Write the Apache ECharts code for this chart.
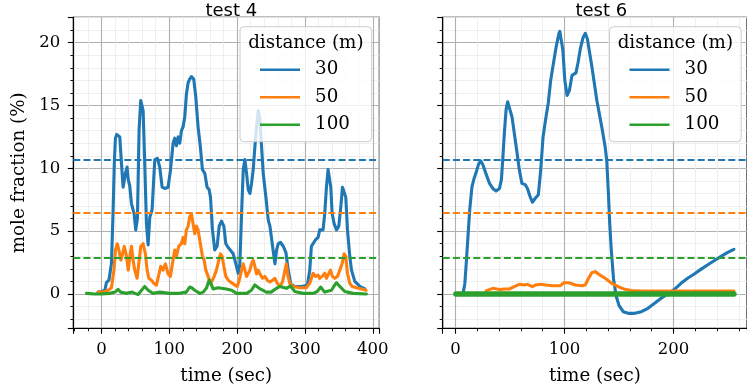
<!DOCTYPE html>
<html><head><meta charset="utf-8">
<script src="https://cdn.jsdelivr.net/npm/echarts@6/dist/echarts.min.js"></script>
<style>html,body{margin:0;padding:0;background:#fff}#c{width:747px;height:391px}</style>
</head><body><div id="c"></div>
<script>
// ---- text ----
const panelTitles = ['test 4', 'test 6'];
const legendTitle = 'distance (m)';
const distances = ['30', '50', '100'];
const xName = 'time (sec)';
const yName = 'mole fraction (%)';
// ---- reference levels (dashed) per distance ----
const thresholds = [10.72, 6.45, 2.87];

// ---- test 4 ----
const t4_30 = [-5,0,5,7.3,11,14.7,17.1,19,20.6,22.5,24.5,27,29.5,31.9,33.5,35.3,37.8,39.5,41.7,44.2,48.1,50.5,53,55.5,57.9,61.4,63.8,66.3,68.8,71.2,74.6,78.6,82.5,85.9,89.4,93.3,98.2,101.6,105.6,108,110.5,113,115.4,117.9,120.3,122.8,125.2,127.7,130,132.6,136,139,142.4,145.8,148.8,152.3,155.7,158.7,160.7,163.6,167,170.5,173.5,176.9,180.4,183.3,186.8,189.2,194.2,198.1,201.6,204,206.5,209,211.4,213.9,216.3,218.8,221.2,223.7,226.1,228.6,231,233.5,236,238.4,242.4,245.8,248.3,252.2,255.7,258.1,260.6,264,268,271.9,275,279,284.8,294.6,303.5,307,309.4,311.9,315.3,319.3,321.7,324.2,326.6,329.1,331.6,334,335.5,338,340,342.9,346.4,349.8,352.8,355.2,357.6,360.1,362.6,366,368.5,373.4,380.8,388.2];
const v4_30 = [0.15,0.2,0.3,0.9,1.1,2.4,6.5,10.5,12.4,12.7,12.6,12.5,10.4,8.5,9.0,9.6,10.1,9.1,8.6,7.2,6.4,5.1,6.0,13.1,15.4,14.6,10.4,5.6,3.9,6.1,6.7,10.7,10.8,10.1,8.5,8.4,8.5,9.8,12.0,12.4,11.8,12.5,12.0,13.0,13.3,14.1,15.9,16.8,17.1,17.3,17.1,15.7,13.3,11.7,9.9,9.6,8.5,8.3,7.7,5.1,3.5,3.8,5.4,5.8,5.4,4.0,3.7,3.6,3.2,2.4,1.65,2.4,6.4,9.9,10.7,9.6,8.3,8.0,8.8,9.9,11.7,13.3,14.6,14.0,11.7,9.6,7.7,5.9,5.4,3.8,2.4,3.5,4.0,4.1,3.8,3.3,2.0,0.8,0.6,0.6,0.7,1.9,3.8,4.0,4.3,4.5,5.1,5.0,5.1,6.4,8.5,9.9,10.0,8.5,6.4,5.6,5.1,5.4,6.95,8.5,8.6,7.7,5.1,3.0,1.9,1.0,0.6,0.4];
const t4_50 = [-5,5,10,14.7,18.4,20.6,23.3,25.7,28.7,31.2,33.6,37,39.5,42,44.2,46.6,49.1,52.5,55,58,61.4,64.8,67.3,69.8,73.7,77.1,81.1,83.5,87.4,90.8,94.3,98.2,101.6,104.6,108,110.4,113.9,117.9,120.3,122.8,125.2,127.7,130.1,132.6,135,137.5,140,142.4,144.9,146.4,148.8,151.3,153.8,157.2,160.7,163.6,166.1,169.5,173,175.4,177.9,180.4,183.3,186.8,190.2,193.2,196.6,200.1,203.1,206.5,209,211.4,213.9,216.3,218.8,221.2,223.7,226.1,228.6,231,233.5,237.4,240.8,244.3,248.3,252.2,255.7,259.1,263.1,267,270.5,272.5,275,277.5,282.4,292.2,302,307,311.9,315.3,319.3,321.7,325.2,329.1,331.6,334,337.5,340.4,343.9,347.8,351.3,354.7,357.6,360.1,362.6,366,369.5,375.9,383.3,390];
const v4_50 = [0.15,0.2,0.3,0.5,1.9,3.5,4.0,3.5,2.7,3.2,3.8,3.0,1.9,3.0,3.8,2.7,1.9,1.25,2.4,3.8,4.0,3.2,1.9,1.25,1.1,0.85,0.7,1.3,2.2,1.9,2.4,1.6,1.4,2.4,3.5,3.0,3.8,4.0,4.5,4.0,5.1,5.4,6.15,6.4,5.6,4.8,5.4,5.1,5.1,3.8,3.0,2.7,1.9,1.4,0.85,1.1,1.4,1.9,2.7,3.2,3.0,2.2,1.4,1.1,0.95,0.85,0.7,0.6,1.1,1.9,2.4,1.9,1.4,1.4,1.9,2.4,2.7,2.2,1.6,1.9,1.6,1.25,1.4,1.1,0.95,1.1,1.25,0.85,0.6,1.0,1.9,2.4,1.4,0.85,0.6,0.5,0.5,0.85,1.65,1.4,1.5,1.25,1.4,1.65,1.25,1.4,1.9,1.4,1.25,1.4,1.9,2.4,3.2,3.0,1.65,0.85,0.6,0.5,0.4,0.3];
const t4_100 = [-22,-10,0,12,20,24.5,28,33,37,45,54,59,63.8,68.8,76,86,100,115,125,130,133,137.5,145,150,155,158.7,162,164.6,172,184,192,199,214,221,226.1,234,243,250,258,263,272.7,278.6,285,297,312,318,323,329,339,343.9,346.4,351.3,358.6,370.8,390.6];
const v4_100 = [0.05,0.0,0.0,0.05,0.15,0.37,0.15,0.1,0.05,0.15,-0.05,0.3,0.6,0.3,0.05,0.15,0.05,0.05,0.15,0.55,0.5,0.3,0.05,0.15,0.5,1.1,0.75,0.4,0.5,0.4,0.3,0.05,0.05,0.3,0.72,0.4,0.15,0.15,0.45,0.6,0.45,0.64,0.2,0.05,0.05,0.2,0.55,0.15,0.3,0.72,0.9,0.6,0.2,0.05,0.0];

// ---- test 6 ----
const t6_30 = [6.9,8.5,10,11.5,13,15,17,19,21,23,25,28.2,31.2,34.2,37.2,40.3,42.1,43.3,44.8,46.4,47.8,49.4,51.8,53.9,56,58.5,60.9,63.9,66,68.2,70.5,73,76,78.2,80.3,82.7,85.1,87.3,90.3,92.4,94.8,95.7,98.5,100.3,102.4,104.5,106.9,110.5,112.4,114.5,117,119.1,121,125.1,129.7,134.2,137.3,138.7,140.3,141.5,143,145,147.5,150,153.9,158.5,164.5,170.5,176.6,182.7,188.7,194.8,200.9,206.9,213,219.1,225.1,231.2,237.3,243.3,249.4,255.5];
const v6_30 = [0.05,0.8,2.7,4.7,6.7,8.5,9.2,9.7,10.3,10.6,10.3,9.5,8.8,8.4,8.2,8.4,9.1,10.7,12.8,14.7,15.3,15.4,14.1,12.8,11.5,9.9,8.8,8.7,8.4,7.8,7.3,7.6,7.9,9.9,12.5,13.9,15.2,17.0,18.6,19.7,20.7,20.9,19.4,17.0,15.8,16.2,17.4,17.6,18.4,19.5,20.4,20.75,20.3,18.1,15.4,13.3,11.7,10.7,8.0,5.6,3.4,1.2,-0.2,-0.9,-1.41,-1.54,-1.54,-1.41,-1.14,-0.74,-0.34,0.0,0.37,0.85,1.25,1.59,1.96,2.31,2.65,2.97,3.29,3.56];
const t6_50 = [28.2,34.2,40.3,45,49.4,53.9,58.5,63.1,66,70.5,73.5,78.2,82.7,88.8,96.3,99.4,103.9,110,116,119,122.1,125.1,128.2,132.7,137.3,143.3,149.4,155.4,161.5,170.5,200,230,255.5];
const v6_50 = [0.27,0.45,0.35,0.4,0.4,0.58,0.77,0.72,0.77,0.58,0.72,0.77,0.72,0.66,0.66,0.9,0.9,0.72,0.66,0.72,1.25,1.7,1.78,1.5,1.25,0.85,0.58,0.37,0.27,0.24,0.24,0.24,0.24];
const t6_100 = [0.3,50,100,150,200,255.5];
const v6_100 = [0,0,0,0,0,0];

const panels = [
  {t: [t4_30, t4_50, t4_100], v: [v4_30, v4_50, v4_100], widths: [3.1, 3.1, 3.1]},
  {t: [t6_30, t6_50, t6_100], v: [v6_30, v6_50, v6_100], widths: [3.1, 3.1, 5.5]}
];

const colors = ['#1f77b4', '#ff7f0e', '#2ca02c'];
const SERIF = '"DejaVu Serif", serif';
const FS = 16.5;   // tick labels
const FN = 18.3;   // axis names / legend
const FT = 18;     // panel titles

const grids = [
  {left: 73.3, top: 17.3, width: 306, height: 311},
  {left: 442.7, top: 17.3, width: 307.3, height: 311}
];
const xExt = [[-41.5, 409.5], [-11.8, 267.5]];
const yExt = [-2.73, 22.02];

function xAxisCfg(i) {
  return {
    gridIndex: i, type: 'value', min: xExt[i][0], max: xExt[i][1], splitNumber: i === 0 ? 5 : 3,
    axisLine: {show: true, onZero: false, lineStyle: {color: '#000', width: 1.1}},
    axisTick: {show: true, length: 5.5, lineStyle: {color: '#000', width: 1.1}},
    minorTick: {show: true, splitNumber: 5, length: 3, lineStyle: {color: '#000', width: 0.9}},
    splitLine: {show: true, lineStyle: {color: '#b0b0b0', width: 1.1}},
    minorSplitLine: {show: true, lineStyle: {color: '#ebebeb', width: 0.8}},
    axisLabel: {showMinLabel: false, showMaxLabel: false, fontFamily: SERIF, fontSize: FS, color: '#000', margin: 12.5},
    name: xName, nameLocation: 'middle', nameGap: 39,
    nameTextStyle: {fontFamily: SERIF, fontSize: FN, color: '#000'}
  };
}
function yAxisCfg(i) {
  return {
    gridIndex: i, type: 'value', min: yExt[0], max: yExt[1], splitNumber: 5,
    axisLine: {show: true, onZero: false, lineStyle: {color: '#000', width: 1.1}},
    axisTick: {show: true, length: 5.5, lineStyle: {color: '#000', width: 1.1}},
    minorTick: {show: true, splitNumber: 5, length: 3, lineStyle: {color: '#000', width: 0.9}},
    splitLine: {show: true, lineStyle: {color: '#b0b0b0', width: 1.1}},
    minorSplitLine: {show: true, lineStyle: {color: '#ebebeb', width: 0.8}},
    axisLabel: {show: i === 0, showMinLabel: false, showMaxLabel: false, fontFamily: SERIF, fontSize: FS, color: '#000', margin: 13},
    name: i === 0 ? yName : '', nameLocation: 'middle', nameGap: 45,
    nameTextStyle: {fontFamily: SERIF, fontSize: FN, color: '#000'}
  };
}

const series = [];
panels.forEach((p, i) => {
  distances.forEach((d, j) => {
    series.push({
      name: d, type: 'line', xAxisIndex: i, yAxisIndex: i,
      data: p.t[j].map((t, k) => [t, p.v[j][k]]),
      symbol: 'none', smooth: false, clip: true, z: 3 + j,
      lineStyle: {color: colors[j], width: p.widths[j], join: 'round', cap: 'round'},
      itemStyle: {color: colors[j]},
      markLine: {
        silent: true, symbol: 'none', label: {show: false},
        lineStyle: {color: colors[j], type: [7, 3.2], width: 2.2},
        data: [{yAxis: thresholds[j]}]
      }
    });
  });
});

const legendBoxes = [{x: 240, y: 26.7, w: 131.7, h: 115}, {x: 609.5, y: 26.7, w: 131.7, h: 115}];

const option = {
  animation: false,
  backgroundColor: '#fff',
  grid: grids.map(g => Object.assign({show: true, borderColor: '#000', borderWidth: 1.1, backgroundColor: 'transparent'}, g)),
  xAxis: [xAxisCfg(0), xAxisCfg(1)],
  yAxis: [yAxisCfg(0), yAxisCfg(1)],
  title: panelTitles.map((t, i) => ({
    text: t, left: grids[i].left + grids[i].width / 2, top: -3, textAlign: 'center',
    textStyle: {fontFamily: '"DejaVu Sans", sans-serif', fontSize: FT, fontWeight: 'normal', color: '#000'}
  })),
  legend: legendBoxes.map(b => ({
    data: distances, orient: 'vertical', left: b.x + 20, top: b.y + 33, padding: 0,
    icon: 'rect', itemWidth: 40, itemHeight: 2.5, itemGap: 7.5, z: 60,
    selectedMode: false,
    textStyle: {fontFamily: SERIF, fontSize: FN, color: '#000', lineHeight: 20, padding: [0, 0, 0, 10]}
  })),
  graphic: legendBoxes.flatMap(b => [
    {type: 'rect', shape: {x: b.x, y: b.y, width: b.w, height: b.h, r: 4}, z: 50,
     style: {fill: 'rgba(255,255,255,0.8)', stroke: '#cccccc', lineWidth: 1}},
    {type: 'text', x: b.x + b.w / 2, y: b.y + 16.5, z: 60,
     style: {text: legendTitle, font: FN + 'px "DejaVu Serif", serif', fill: '#000', textAlign: 'center', textVerticalAlign: 'middle'}}
  ]),
  series: series
};
echarts.init(document.getElementById('c')).setOption(option);
</script></body></html>
